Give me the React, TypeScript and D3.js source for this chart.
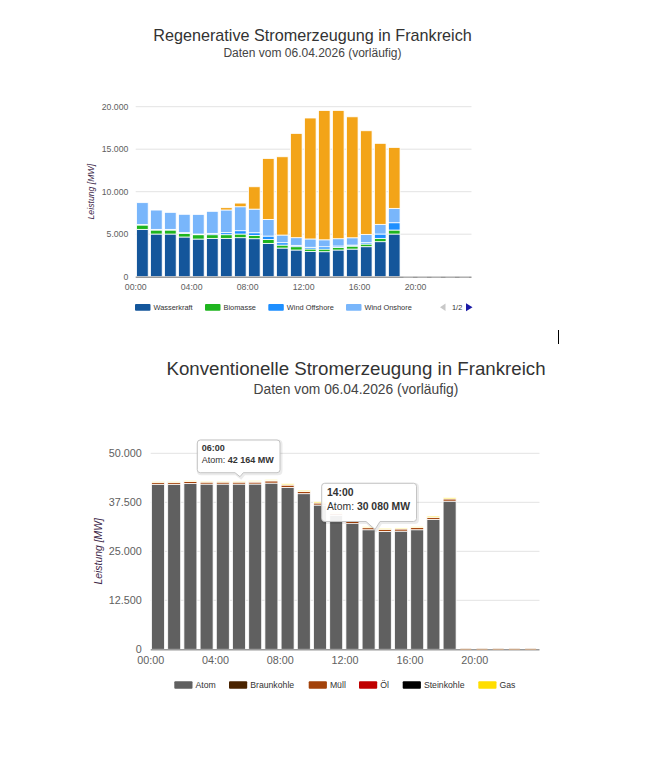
import * as d3 from "d3";
import { useEffect, useRef } from "react";

// Hours of the day (one bar per hour)
const hours = [0, 1, 2, 3, 4, 5, 6, 7, 8, 9, 10, 11, 12, 13, 14, 15, 16, 17, 18, 19, 20, 21, 22, 23];
const tickHours = [0, 4, 8, 12, 16, 20];
const tickLabels = ["00:00", "04:00", "08:00", "12:00", "16:00", "20:00"];

// Regenerative Stromerzeugung (MW)
const wasserkraft = [5570, 5020, 5020, 4670, 4430, 4510, 4510, 4590, 4470, 3920, 3370, 3140, 2980, 2940, 3140, 3250, 3530, 4120, 5020, 0, 0, 0, 0, 0];
const biomasse = [510, 470, 470, 430, 510, 430, 430, 430, 390, 470, 350, 390, 280, 310, 310, 350, 310, 390, 470, 0, 0, 0, 0, 0];
const windOffshore = [60, 80, 80, 80, 80, 160, 240, 390, 310, 390, 280, 160, 200, 270, 160, 120, 160, 510, 860, 0, 0, 0, 0, 0];
const windOnshore = [2570, 2270, 2000, 2160, 2310, 2590, 2670, 2820, 2780, 1960, 900, 900, 980, 820, 860, 860, 980, 1140, 1690, 0, 0, 0, 0, 0];
const solar = [0, 0, 0, 0, 0, 0, 270, 430, 2630, 7170, 9210, 12270, 14230, 15210, 15090, 14230, 12190, 9530, 7170, 0, 0, 0, 0, 0];
const regenNames = ["Wasserkraft", "Biomasse", "Wind Offshore", "Wind Onshore", "Solar"];
const regenColors = ["#14569b", "#1fb51f", "#1e8fff", "#79b6fb", "#f3a418"];
const regenLegend = ["Wasserkraft", "Biomasse", "Wind Offshore", "Wind Onshore"];
const regenTicks = [0, 5000, 10000, 15000, 20000];

// Konventionelle Stromerzeugung (MW)
const atom = [42100, 42100, 42300, 42150, 42150, 42150, 42164, 42400, 41300, 39700, 36800, 34200, 32100, 30500, 30080, 30150, 30500, 33150, 37800, 0, 0, 0, 0, 0];
const braunkohle = [0, 0, 0, 0, 0, 0, 0, 0, 0, 0, 0, 0, 0, 0, 0, 0, 0, 0, 0, 0, 0, 0, 0, 0];
const muell = [500, 500, 520, 500, 500, 500, 500, 560, 600, 560, 520, 500, 500, 520, 540, 540, 540, 520, 560, 0, 0, 0, 0, 0];
const oel = [0, 0, 60, 0, 0, 0, 80, 120, 60, 0, 0, 0, 0, 0, 0, 0, 0, 0, 0, 0, 0, 0, 0, 0];
const steinkohle = [0, 0, 0, 0, 0, 0, 0, 0, 0, 0, 0, 0, 0, 0, 0, 0, 0, 0, 0, 0, 0, 0, 0, 0];
const gas = [240, 240, 240, 240, 240, 240, 240, 240, 300, 300, 300, 280, 260, 260, 260, 260, 280, 300, 300, 0, 0, 0, 0, 0];
const convNames = ["Atom", "Braunkohle", "Müll", "Öl", "Steinkohle", "Gas"];
const convColors = ["#606060", "#4a2300", "#a3420a", "#c00000", "#000000", "#ffde00"];
const convTicks = [0, 12500, 25000, 37500, 50000];

const FONT = "'Liberation Sans', Arial, sans-serif";
const de = d3.formatLocale({ decimal: ",", thousands: ".", grouping: [3], currency: ["", " €"] }).format(",");
const sp = d3.formatLocale({ decimal: ",", thousands: " ", grouping: [3], currency: ["", " €"] }).format(",");

type Cfg = {
  title: string;
  subtitle: string;
  titleX: number;
  titleY: number;
  subY: number;
  titleSize: number;
  subSize: number;
  left: number;
  right: number;
  top: number;
  bottom: number;
  max: number;
  ticks: number[];
  series: number[][];
  names: string[];
  colors: string[];
  legend: string[];
  axisSize: number;
  labelRight: number;
  labelDy: number;
  xLabelY: number;
  yTitleX: number;
  yTitleSize: number;
  barPad: number;
  barGap: number;
  legendY: number;
  legendSize: number;
  swatchW: number;
  swatchH: number;
  legendX: number[];
  emptyColor: string;
};

function drawChart(svg: any, cfg: Cfg) {
  const x = d3.scaleLinear().domain([0, 24]).range([cfg.left, cfg.right]);
  const y = d3.scaleLinear().domain([0, cfg.max]).range([cfg.bottom, cfg.top]);
  const band = x(1) - x(0);

  const table = hours.map((h, i) => {
    const row: any = { hour: h };
    cfg.names.forEach((n, k) => (row[n] = cfg.series[k][i]));
    return row;
  });
  const stacked = d3.stack().keys(cfg.names)(table);

  const g = svg.append("g").attr("font-family", FONT);

  // Titles
  g.append("text")
    .attr("x", cfg.titleX)
    .attr("y", cfg.titleY)
    .attr("text-anchor", "middle")
    .attr("font-size", cfg.titleSize)
    .attr("fill", "#333")
    .text(cfg.title);
  g.append("text")
    .attr("x", cfg.titleX)
    .attr("y", cfg.subY)
    .attr("text-anchor", "middle")
    .attr("font-size", cfg.subSize)
    .attr("fill", "#444")
    .text(cfg.subtitle);

  // Gridlines and y labels
  g.append("g")
    .selectAll("line")
    .data(cfg.ticks.filter((t) => t > 0))
    .join("line")
    .attr("x1", cfg.left)
    .attr("x2", cfg.right)
    .attr("y1", (d: number) => y(d))
    .attr("y2", (d: number) => y(d))
    .attr("stroke", "#e3e3e3")
    .attr("stroke-width", 1);

  g.append("g")
    .selectAll("text")
    .data(cfg.ticks)
    .join("text")
    .attr("x", cfg.labelRight)
    .attr("y", (d: number) => y(d) + cfg.labelDy)
    .attr("text-anchor", "end")
    .attr("font-size", cfg.axisSize)
    .attr("fill", "#606060")
    .text((d: number) => de(d));

  // y axis title
  g.append("text")
    .attr("transform", `translate(${cfg.yTitleX},${(cfg.top + cfg.bottom) / 2}) rotate(-90)`)
    .attr("text-anchor", "middle")
    .attr("font-size", cfg.yTitleSize)
    .attr("font-style", "italic")
    .attr("fill", "#40284a")
    .text("Leistung [MW]");

  // Stacked bars
  g.append("g")
    .selectAll("g")
    .data(stacked)
    .join("g")
    .attr("fill", (_: any, i: number) => cfg.colors[i])
    .selectAll("rect")
    .data((d: any) => d.filter((p: any) => p[1] - p[0] > 0))
    .join("rect")
    .attr("x", (p: any) => x(p.data.hour) + cfg.barPad)
    .attr("width", band - cfg.barPad - cfg.barGap)
    .attr("y", (p: any) => y(p[1]))
    .attr("height", (p: any) => y(p[0]) - y(p[1]))
    .attr("stroke", "#fff")
    .attr("stroke-width", 0.8);

  // x axis line
  g.append("line")
    .attr("x1", cfg.left)
    .attr("x2", cfg.right)
    .attr("y1", cfg.bottom + 0.5)
    .attr("y2", cfg.bottom + 0.5)
    .attr("stroke", "#9a9a9a")
    .attr("stroke-width", 1.6);

  // empty hours (no data yet)
  g.append("g")
    .selectAll("rect")
    .data(table.filter((r: any) => cfg.names.every((n) => r[n] === 0)))
    .join("rect")
    .attr("x", (r: any) => x(r.hour) + cfg.barPad + 1)
    .attr("width", band - cfg.barPad - cfg.barGap - 2)
    .attr("y", cfg.bottom - 0.6)
    .attr("height", 1.3)
    .attr("fill", cfg.emptyColor);

  // x labels
  g.append("g")
    .selectAll("text")
    .data(tickHours)
    .join("text")
    .attr("x", (d: number) => x(d))
    .attr("y", cfg.xLabelY)
    .attr("text-anchor", "middle")
    .attr("font-size", cfg.axisSize)
    .attr("fill", "#606060")
    .text((_: number, i: number) => tickLabels[i]);

  // Legend
  const items = g
    .append("g")
    .selectAll("g")
    .data(cfg.legend)
    .join("g")
    .attr("transform", (_: string, i: number) => `translate(${cfg.legendX[i]},${cfg.legendY})`);
  items
    .append("rect")
    .attr("x", 0)
    .attr("y", -cfg.swatchH / 2)
    .attr("width", cfg.swatchW)
    .attr("height", cfg.swatchH)
    .attr("rx", 1)
    .attr("fill", (_: string, i: number) => cfg.colors[i]);
  items
    .append("text")
    .attr("x", cfg.swatchW + 3)
    .attr("y", cfg.legendSize * 0.36)
    .attr("font-size", cfg.legendSize)
    .attr("fill", "#333")
    .text((d: string) => d);

  return { x, y };
}

function callout(x0: number, y0: number, x1: number, y1: number, n0: number, n1: number, tx: number, ty: number) {
  const r = 3;
  return `M${x0 + r},${y0} H${x1 - r} Q${x1},${y0} ${x1},${y0 + r} V${y1 - r} Q${x1},${y1} ${x1 - r},${y1} H${n1} L${tx},${ty} L${n0},${y1} H${x0 + r} Q${x0},${y1} ${x0},${y1 - r} V${y0 + r} Q${x0},${y0} ${x0 + r},${y0} Z`;
}

// Tooltip annotations shown on the conventional chart
const tooltipHours = [6, 14];
const tooltipSizes = [9, 10.4];

export default function App() {
  const ref = useRef<SVGSVGElement>(null);

  useEffect(() => {
    const svg = d3.select(ref.current);
    svg.selectAll("*").remove();

    drawChart(svg, {
      title: "Regenerative Stromerzeugung in Frankreich",
      subtitle: "Daten vom 06.04.2026 (vorläufig)",
      titleX: 312.5,
      titleY: 41,
      subY: 57,
      titleSize: 16.2,
      subSize: 12,
      left: 135.7,
      right: 471.5,
      top: 106.7,
      bottom: 276.7,
      max: 20000,
      ticks: regenTicks,
      series: [wasserkraft, biomasse, windOffshore, windOnshore, solar],
      names: regenNames,
      colors: regenColors,
      legend: regenLegend,
      axisSize: 8.7,
      labelRight: 128.3,
      labelDy: 3.1,
      xLabelY: 289.5,
      yTitleX: 94.3,
      yTitleSize: 8.7,
      barPad: 0.9,
      barGap: 1.5,
      legendY: 307.3,
      legendSize: 7.4,
      swatchW: 15.5,
      swatchH: 6.8,
      legendX: [135, 205, 268.3, 346],
      emptyColor: "#d4d4d4",
    });

    // legend pager
    const pager = svg.append("g").attr("font-family", FONT);
    pager.append("path").attr("d", "M440,307.3 L445.5,303.6 L445.5,311 Z").attr("fill", "#c8c8c8");
    pager
      .append("text")
      .attr("x", 452)
      .attr("y", 310)
      .attr("font-size", 7.4)
      .attr("fill", "#333")
      .text("1/2");
    pager.append("path").attr("d", "M472.5,307.3 L466,303.3 L466,311.3 Z").attr("fill", "#1a1aa6");

    const { x, y } = drawChart(svg, {
      title: "Konventionelle Stromerzeugung in Frankreich",
      subtitle: "Daten vom 06.04.2026 (vorläufig)",
      titleX: 356,
      titleY: 375,
      subY: 394,
      titleSize: 18.7,
      subSize: 13.8,
      left: 150.7,
      right: 539.5,
      top: 453.3,
      bottom: 649.3,
      max: 50000,
      ticks: convTicks,
      series: [atom, braunkohle, muell, oel, steinkohle, gas],
      names: convNames,
      colors: convColors,
      legend: convNames,
      axisSize: 10.8,
      labelRight: 141.7,
      labelDy: 3.9,
      xLabelY: 663.5,
      yTitleX: 101.6,
      yTitleSize: 10.4,
      barPad: 0.8,
      barGap: 2.4,
      legendY: 685,
      legendSize: 8.7,
      swatchW: 18.2,
      swatchH: 7.4,
      legendX: [174.3, 229, 308.7, 359, 402.7, 478.3],
      emptyColor: "#caa98c",
    });

    // Tooltips anchored to the Atom value of the hovered hour
    const tipGeom = [
      { dx: -7.9, dy: -7.3, l: 42.7, r: 40, t: 36.7, b: 4, n0: -5, n1: 3.3 },
      { dx: -2.5, dy: -1.9, l: 53.3, r: 41.5, t: 46.2, b: 8, n0: -9, n1: 5 },
    ];
    tooltipHours.forEach((h, i) => {
      const gm = tipGeom[i];
      const fs = tooltipSizes[i];
      const tx = x(h) + gm.dx;
      const ty = y(atom[h]) + gm.dy;
      const x0 = tx - gm.l;
      const x1 = tx + gm.r;
      const y0 = ty - gm.t;
      const y1 = ty - gm.b;
      const tg = svg.append("g").attr("font-family", FONT);
      tg.append("path")
        .attr("d", callout(x0, y0, x1, y1, tx + gm.n0, tx + gm.n1, tx, ty))
        .attr("transform", "translate(1,1)")
        .attr("fill", "none")
        .attr("stroke", "rgba(0,0,0,0.08)")
        .attr("stroke-width", 3);
      tg.append("path")
        .attr("d", callout(x0, y0, x1, y1, tx + gm.n0, tx + gm.n1, tx, ty))
        .attr("fill", "rgba(255,255,255,0.92)")
        .attr("stroke", "#c4c4c4")
        .attr("stroke-width", 1);
      tg.append("text")
        .attr("x", x0 + fs * 0.5)
        .attr("y", y0 + fs * 1.2)
        .attr("font-size", fs)
        .attr("font-weight", "bold")
        .attr("fill", "#333")
        .text(tickLabels[0].replace("00", String(h).padStart(2, "0")));
      const line = tg
        .append("text")
        .attr("x", x0 + fs * 0.5)
        .attr("y", y0 + fs * 2.6)
        .attr("font-size", fs)
        .attr("fill", "#333");
      line.append("tspan").text(`${convNames[0]}: `);
      line.append("tspan").attr("font-weight", "bold").text(`${sp(atom[h])} MW`);
    });

    // text cursor left on the page
    svg.append("line")
      .attr("x1", 558.5)
      .attr("x2", 558.5)
      .attr("y1", 330)
      .attr("y2", 344)
      .attr("stroke", "#000")
      .attr("stroke-width", 1);
  }, []);

  return (
    <svg
      ref={ref}
      width={667}
      height={773}
      style={{ position: "absolute", left: 0, top: 0, background: "#fff" }}
    />
  );
}
